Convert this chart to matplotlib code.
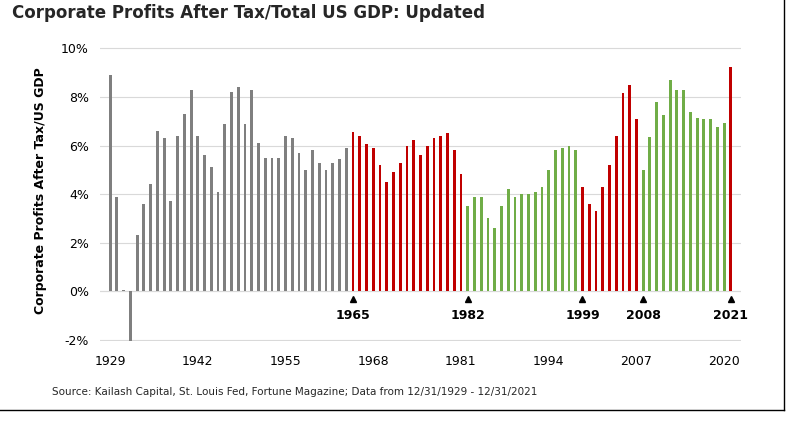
import matplotlib
matplotlib.use("Agg")
import matplotlib.pyplot as plt
from matplotlib.lines import Line2D

years = list(range(1929, 2022))
values = [8.9, 3.9, 0.07, -2.05, 2.3, 3.6, 4.4, 6.6, 6.3, 3.7, 6.4, 7.3, 8.3, 6.4, 5.6, 5.1, 4.1,
          6.9, 8.2, 8.4, 6.9, 8.3, 6.1, 5.5, 5.5, 5.5, 6.4, 6.3, 5.7, 5.0, 5.8, 5.3, 5.0, 5.3,
          5.45, 5.9,
          6.55, 6.4, 6.05, 5.9, 5.2, 4.5, 4.9, 5.3, 6.0, 6.25, 5.6, 6.0, 6.3, 6.4, 6.5, 5.8, 4.85,
          3.5, 3.9, 3.9, 3.0, 2.6, 3.5, 4.2, 3.9, 4.0, 4.0, 4.1, 4.3, 5.0, 5.8, 5.9, 6.0, 5.8,
          4.3, 3.6, 3.3, 4.3, 5.2, 6.4, 8.15, 8.5, 7.1,
          5.0, 6.35, 7.8, 7.25, 8.7, 8.3, 8.3, 7.4, 7.15, 7.1, 7.1, 6.75, 6.95,
          9.25]
marker_years = [1965, 1982, 1999, 2008, 2021]
xtick_years = [1929, 1942, 1955, 1968, 1981, 1994, 2007, 2020]
yticks = [-2, 0, 2, 4, 6, 8, 10]

GREY, RED, GREEN = "#7f7f7f", "#c00000", "#70ad47"
def color(y):
    if y < 1965: return GREY
    if y < 1982: return RED
    if y < 1999: return GREEN
    if y < 2008: return RED
    if y < 2021: return GREEN
    return RED

fig = plt.figure(figsize=(7.99, 4.21), dpi=100)
ax = fig.add_axes([100/799, 1-341/421, 641/799, 301/421])
ax.bar(years, values, width=0.42, color=[color(y) for y in years], zorder=3)
ax.set_xlim(1927.5, 2022.5)
ax.set_ylim(-2.05, 10.35)
ax.set_yticks(yticks)
ax.set_yticklabels([f"{v}%" for v in yticks], fontsize=9)
ax.set_xticks(xtick_years)
ax.set_xticklabels([str(y) for y in xtick_years], fontsize=9)
ax.tick_params(length=0, pad=8)
ax.tick_params(axis='x', pad=10)
ax.grid(axis='y', color="#d9d9d9", lw=0.8, zorder=0)
for s in ax.spines.values():
    s.set_visible(False)
ax.axhline(0, color="#d9d9d9", lw=0.8, zorder=2)
for y in marker_years:
    ax.plot(y, -0.3, marker="^", color="black", ms=5, zorder=4, clip_on=False)
    ax.text(y, -0.75, str(y), ha="center", va="top", fontsize=9, fontweight="bold")
ax.set_ylabel("Corporate Profits After Tax/US GDP", fontsize=9, fontweight="bold", labelpad=10)
fig.text(12/799, 1-13/421, "Corporate Profits After Tax/Total US GDP: Updated", fontsize=12,
         fontweight="bold", va="center", color="#262626")
fig.text(52/799, 1-392/421, "Source: Kailash Capital, St. Louis Fed, Fortune Magazine; Data from 12/31/1929 - 12/31/2021",
         fontsize=7.5, va="center", color="#262626")
fig.add_artist(Line2D([784/799, 784/799], [1-410/421, 1], color="black", lw=1))
fig.add_artist(Line2D([0, 784/799], [1-410/421, 1-410/421], color="black", lw=1))
fig.savefig("out.png", dpi=100)
